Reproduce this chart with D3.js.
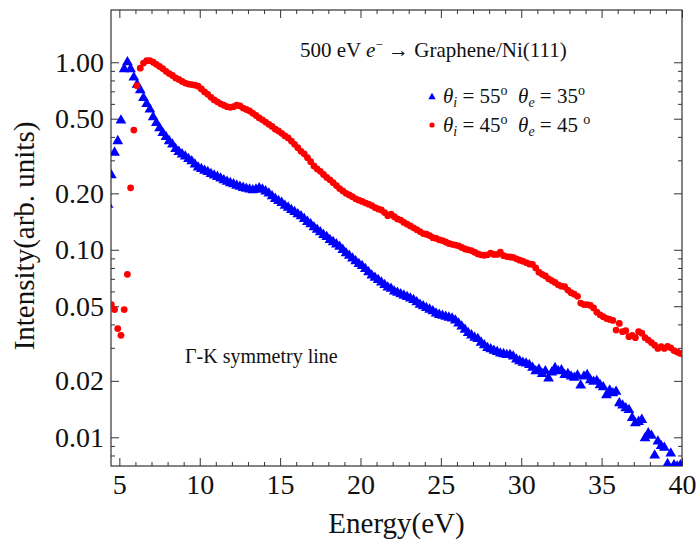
<!DOCTYPE html>
<html><head><meta charset="utf-8">
<script src="https://cdn.jsdelivr.net/npm/d3@7"></script>
<style>body{margin:0;background:#fff} svg text{font-family:"Liberation Serif","Times New Roman",serif;white-space:pre;}</style>
</head><body><svg id="c" width="699" height="541"></svg>
<script>
const energy = [4.3,4.5,4.7,4.9,
5.1,5.3,5.5,5.7,5.9, 6.1,6.3,6.5,6.7,6.9, 7.1,7.3,7.5,7.7,7.9, 8.1,8.3,8.5,8.7,8.9, 9.1,9.3,9.5,9.7,9.9,
10.1,10.3,10.5,10.7,10.9, 11.1,11.3,11.5,11.7,11.9, 12.1,12.3,12.5,12.7,12.9, 13.1,13.3,13.5,13.7,13.9, 14.1,14.3,14.5,14.7,14.9,
15.1,15.3,15.5,15.7,15.9, 16.1,16.3,16.5,16.7,16.9, 17.1,17.3,17.5,17.7,17.9, 18.1,18.3,18.5,18.7,18.9, 19.1,19.3,19.5,19.7,19.9,
20.1,20.3,20.5,20.7,20.9, 21.1,21.3,21.5,21.7,21.9, 22.1,22.3,22.5,22.7,22.9, 23.1,23.3,23.5,23.7,23.9, 24.1,24.3,24.5,24.7,24.9,
25.1,25.3,25.5,25.7,25.9, 26.1,26.3,26.5,26.7,26.9, 27.1,27.3,27.5,27.7,27.9, 28.1,28.3,28.5,28.7,28.9, 29.1,29.3,29.5,29.7,29.9,
30.1,30.3,30.5,30.7,30.9, 31.1,31.3,31.5,31.7,31.9, 32.1,32.3,32.5,32.7,32.9, 33.1,33.3,33.5,33.7,33.9, 34.1,34.3,34.5,34.7,34.9,
35.1,35.3,35.5,35.7,35.9, 36.1,36.3,36.5,36.7,36.9, 37.1,37.3,37.5,37.7,37.9, 38.1,38.3,38.5,38.7,38.9, 39.1,39.3,39.5,39.7,39.9,
40.1];

// theta_i = 55, theta_e = 35 (blue triangles)
const blueI = [0.174,0.25,0.33,0.38,
0.49,0.92,1.00,0.92,0.83, 0.76,0.71,0.645,0.60,0.56, 0.51,0.475,0.445,0.42,0.40, 0.38,0.365,0.345,0.333,0.323, 0.315,0.305,0.297,0.285,0.275,
0.27,0.264,0.26,0.254,0.249, 0.245,0.24,0.235,0.231,0.227, 0.224,0.22,0.217,0.214,0.212, 0.21,0.208,0.21,0.213,0.21, 0.205,0.2,0.193,0.187,0.182,
0.178,0.172,0.168,0.163,0.159, 0.155,0.151,0.146,0.141,0.137, 0.132,0.128,0.124,0.12,0.117, 0.113,0.11,0.107,0.104,0.1, 0.096,0.093,0.09,0.087,0.084,
0.082,0.079,0.076,0.073,0.071, 0.069,0.067,0.065,0.063,0.062, 0.06,0.059,0.058,0.057,0.056, 0.055,0.054,0.0525,0.051,0.05, 0.049,0.048,0.047,0.0458,0.045,
0.0445,0.044,0.0435,0.043,0.042, 0.0405,0.039,0.0375,0.036,0.035, 0.034,0.0335,0.032,0.031,0.03, 0.0295,0.029,0.0285,0.028,0.0278, 0.0275,0.0275,0.027,0.026,0.0255,
0.025,0.0248,0.0243,0.0235,0.0225, 0.023,0.0218,0.0225,0.0206,0.0222, 0.0234,0.0225,0.0228,0.0215,0.0218, 0.0211,0.0208,0.0214,0.0189,0.0211, 0.0215,0.0202,0.0198,0.02,0.019,
0.0185,0.0168,0.0178,0.0172,0.0175, 0.0152,0.0148,0.0143,0.014,0.0127, 0.0119,0.0121,0.0124,0.0099,0.0105, 0.0102,0.008,0.0095,0.009,0.0088, 0.0072,0.0082,0.0071,0.007,0.0071,
null];

// theta_i = 45, theta_e = 45 (red circles)
const redI = [null,0.051,0.048,0.038,
0.035,0.048,0.074,0.214,0.435, 0.75,0.93,0.99,1.02,1.02, 1.0,0.975,0.95,0.925,0.895, 0.87,0.85,0.825,0.81,0.79, 0.775,0.765,0.76,0.755,0.745,
0.72,0.695,0.675,0.65,0.63, 0.615,0.6,0.59,0.58,0.575, 0.58,0.59,0.585,0.57,0.56, 0.55,0.535,0.52,0.505,0.493, 0.48,0.467,0.455,0.44,0.43,
0.418,0.405,0.395,0.38,0.365, 0.35,0.335,0.325,0.31,0.295, 0.28,0.27,0.262,0.252,0.243, 0.236,0.228,0.22,0.212,0.206, 0.2,0.196,0.192,0.187,0.184,
0.181,0.178,0.175,0.172,0.168, 0.165,0.163,0.158,0.152,0.155, 0.15,0.146,0.144,0.14,0.137, 0.134,0.131,0.128,0.125,0.122, 0.121,0.119,0.116,0.115,0.113,
0.112,0.11,0.108,0.107,0.106, 0.105,0.103,0.101,0.1,0.099, 0.097,0.095,0.094,0.0935,0.094, 0.096,0.0945,0.0945,0.097,0.093, 0.092,0.0915,0.091,0.0895,0.088,
0.087,0.0855,0.084,0.0835,0.08, 0.076,0.074,0.0725,0.07,0.0685, 0.067,0.065,0.064,0.0635,0.061, 0.059,0.058,0.0565,0.052,0.051, 0.051,0.0505,0.049,0.0465,0.045,
0.044,0.043,0.0425,0.042,0.0373, 0.0405,0.0366,0.037,0.0344,0.035, 0.034,0.0366,0.0359,0.034,0.033, 0.032,0.031,0.0298,0.0304,0.0298, 0.0305,0.03,0.029,0.0285,0.028,
0.0275];

const xMajorTicks = [5,10,15,20,25,30,35,40];
const xMinorTicks = [6,7,8,9,11,12,13,14,16,17,18,19,21,22,23,24,26,27,28,29,31,32,33,34,36,37,38,39];
const yMajorTicks = [0.01,0.02,0.05,0.1,0.2,0.5,1];
const yMinorTicks = [0.008,0.009,0.03,0.04,0.06,0.07,0.08,0.09,0.3,0.4,0.6,0.7,0.8,0.9];

const L = 111, R = 682, T = 10, B = 466;
const FONT = '"Liberation Serif","Times New Roman",serif';
const svg = d3.select("#c");
svg.append("rect").attr("width",699).attr("height",541).attr("fill","#fff");

const x = d3.scaleLinear().domain([4.48, 40]).range([L, R]);
const y = d3.scaleLog().domain([0.00703, 1.9]).range([B, T]);

function styleAxis(g){
  g.attr("font-family", FONT).attr("font-size", 28);
  g.select(".domain").remove();
  g.selectAll(".tick line").attr("stroke", "#333").attr("stroke-width", 1);
  g.selectAll(".tick text").attr("fill", "#111");
}

// bottom
svg.append("g").attr("transform",`translate(0,${B})`)
  .call(d3.axisBottom(x).tickValues(xMajorTicks).tickSize(-8).tickPadding(8).tickFormat(d3.format("d"))).call(styleAxis);
svg.append("g").attr("transform",`translate(0,${B})`)
  .call(d3.axisBottom(x).tickValues(xMinorTicks).tickSize(-4).tickFormat("")).call(styleAxis);
// top
svg.append("g").attr("transform",`translate(0,${T})`)
  .call(d3.axisTop(x).tickValues(xMajorTicks).tickSize(-8).tickFormat("")).call(styleAxis);
svg.append("g").attr("transform",`translate(0,${T})`)
  .call(d3.axisTop(x).tickValues(xMinorTicks).tickSize(-4).tickFormat("")).call(styleAxis);
// left
svg.append("g").attr("transform",`translate(${L},0)`)
  .call(d3.axisLeft(y).tickValues(yMajorTicks).tickSize(-8).tickPadding(7).tickFormat(d3.format(".2f"))).call(styleAxis);
svg.append("g").attr("transform",`translate(${L},0)`)
  .call(d3.axisLeft(y).tickValues(yMinorTicks).tickSize(-4).tickFormat("")).call(styleAxis);
// right
svg.append("g").attr("transform",`translate(${R},0)`)
  .call(d3.axisRight(y).tickValues(yMajorTicks).tickSize(-8).tickFormat("")).call(styleAxis);
svg.append("g").attr("transform",`translate(${R},0)`)
  .call(d3.axisRight(y).tickValues(yMinorTicks).tickSize(-4).tickFormat("")).call(styleAxis);

// frame
svg.append("rect").attr("x",L).attr("y",T).attr("width",R-L).attr("height",B-T)
  .attr("fill","none").attr("stroke","#333").attr("stroke-width",1.2);

// data
svg.append("clipPath").attr("id","clip").append("rect").attr("x",L).attr("y",T).attr("width",R-L).attr("height",B-T);
const plot = svg.append("g").attr("clip-path","url(#clip)");
const blueData = energy.map((e,i)=>({e, v: blueI[i]})).filter(d=>d.v!=null);
const redData = energy.map((e,i)=>({e, v: redI[i]})).filter(d=>d.v!=null);
const tri = d3.symbol().type(d3.symbolTriangle).size(50);
plot.selectAll("path.b").data(blueData).join("path").attr("class","b")
  .attr("d", tri).attr("fill","#0000ff")
  .attr("transform", d=>`translate(${x(d.e)},${y(d.v)})`);
plot.selectAll("circle.r").data(redData).join("circle").attr("class","r")
  .attr("cx", d=>x(d.e)).attr("cy", d=>y(d.v)).attr("r",3.4).attr("fill","#ff0000");

// axis labels
svg.append("text").attr("x",(L+R)/2).attr("y",533).attr("text-anchor","middle")
  .attr("font-size",29).attr("fill","#111").text("Energy(eV)");
svg.append("text").attr("transform","translate(34,236) rotate(-90)").attr("text-anchor","middle")
  .attr("font-size",29).attr("fill","#111").text("Intensity(arb. units)");

// title
const t = svg.append("text").attr("x",300).attr("y",57).attr("font-size",21).attr("fill","#111");
t.append("tspan").text("500 eV ");
t.append("tspan").attr("font-style","italic").text("e");
t.append("tspan").attr("font-size",13).attr("dy",-8).text("\u2212");
t.append("tspan").attr("dy",8).text(" \u2192 Graphene/Ni(111)");

// legend
function legendText(yy, a, b, sp){
  const g = svg.append("text").attr("x",443).attr("y",yy).attr("font-size",21).attr("fill","#111");
  g.append("tspan").attr("font-style","italic").text("\u03B8");
  g.append("tspan").attr("font-style","italic").attr("font-size",14).attr("dy",4).text("i");
  g.append("tspan").attr("dy",-4).text(" = " + a);
  g.append("tspan").attr("font-size",14).attr("dy",-8).text("o");
  g.append("tspan").attr("dy",8).text("  ");
  g.append("tspan").attr("font-style","italic").text("\u03B8");
  g.append("tspan").attr("font-style","italic").attr("font-size",14).attr("dy",4).text("e");
  g.append("tspan").attr("dy",-4).text(" = " + b + sp);
  g.append("tspan").attr("font-size",14).attr("dy",-8).text("o");
}
svg.append("path").attr("d", d3.symbol().type(d3.symbolTriangle).size(24))
  .attr("transform","translate(432,97)").attr("fill","#0000ff");
legendText(103, "55", "35", "");
svg.append("circle").attr("cx",432).attr("cy",125).attr("r",2.6).attr("fill","#ff0000");
legendText(131.5, "45", "45", " ");

svg.append("text").attr("x",185).attr("y",363).attr("font-size",20).attr("fill","#111").text("\u0393-K symmetry line");
</script></body></html>
